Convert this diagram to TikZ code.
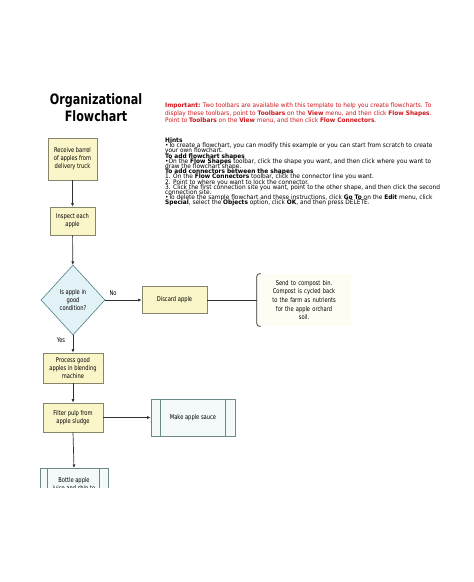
\documentclass[tikz,border=0pt]{standalone}
\usepackage{fontspec}
\setmainfont{DejaVu Sans}[FakeStretch=0.78]
\newfontfamily\notefont{DejaVu Sans}[FakeStretch=0.94]
\newcommand\hintfont{\notefont\fontsize{6.2}{5.2}\selectfont\lineskiplimit=-6pt\relax}
\usepackage{tikz}
\usetikzlibrary{shapes.geometric,arrows.meta}
\definecolor{stepfill}{HTML}{FAF6CA}
\definecolor{stepline}{HTML}{85856A}
\definecolor{askfill}{HTML}{E3F2F6}
\definecolor{askline}{HTML}{4F7F8C}
\definecolor{subfill}{HTML}{F4FAFA}
\definecolor{subline}{HTML}{6A8A8A}
\definecolor{notefill}{HTML}{FFFDF3}
\definecolor{hintred}{HTML}{D0141A}
\definecolor{wire}{HTML}{303030}

\begin{document}
\begin{tikzpicture}[x=1pt,y=-1pt,
  stepbox/.style={draw=stepline,fill=stepfill,line width=0.7pt,align=center,
    inner sep=1pt,font=\fontsize{6.6}{8}\selectfont},
  subbox/.style={draw=subline,fill=subfill,line width=0.6pt,align=center,
    inner sep=1pt,font=\fontsize{6.6}{8}\selectfont},
  askbox/.style={diamond,draw=askline,fill=askfill,line width=0.6pt,align=center,
    inner sep=0pt,font=\fontsize{6.6}{8}\selectfont},
  flow/.style={wire,line width=0.7pt,-{Latex[length=3.5pt,width=3pt]}},
  lbl/.style={font=\fontsize{6.6}{8}\selectfont}]
\useasboundingbox (0,0) rectangle (474,582);

% title and notes
\node[align=center,font=\fontsize{14.3}{17}\selectfont\bfseries] (title) at (96,108) {Organizational\\Flowchart};
\node[anchor=north west,inner sep=0pt,align=left,text=hintred,font=\notefont\fontsize{6.2}{7.6}\selectfont] (important) at (165,102.5)
  {\textbf{Important:} Two toolbars are available with this template to help you create flowcharts. To\\
   display these toolbars, point to \textbf{Toolbars} on the \textbf{View} menu, and then click \textbf{Flow Shapes}.\\
   Point to \textbf{Toolbars} on the \textbf{View} menu, and then click \textbf{Flow Connectors}.};
\node[anchor=north west,inner sep=0pt,align=left,font=\hintfont] (hints) at (165,137.5)
  {\textbf{Hints}\\
   •To create a flowchart, you can modify this example or you can start from scratch to create\\
   your own flowchart.\\
   \textbf{To add flowchart shapes}\\
   •On the \textbf{Flow Shapes} toolbar, click the shape you want, and then click where you want to\\
   draw the flowchart shape.\\
   \textbf{To add connectors between the shapes}\\
   1. On the \textbf{Flow Connectors} toolbar, click the connector line you want.\\
   2. Point to where you want to lock the connector.\\
   3. Click the first connection site you want, point to the other shape, and then click the second\\
   connection site.\\
   •To delete the sample flowchart and these instructions, click \textbf{Go To} on the \textbf{Edit} menu, click\\
   \textbf{Special}, select the \textbf{Objects} option, click \textbf{OK}, and then press DELETE.};

% flowchart
\node[stepbox,minimum width=49,minimum height=42] (receive) at (72.5,159) {Receive barrel\\of apples from\\delivery truck};
\node[stepbox,minimum width=45,minimum height=28] (inspect) at (72.5,221) {Inspect each\\apple};
\node[askbox,minimum width=64,minimum height=70] (good) at (73,300) {Is apple in\\good\\condition?};
\node[stepbox,minimum width=65,minimum height=27] (discard) at (174.5,300) {Discard apple};
\node[fill=notefill,text width=90,align=center,minimum height=52,inner sep=2pt,
  font=\fontsize{6.6}{8.6}\selectfont] (compost) at (304,300)
  {Send to compost bin.\\Compost is cycled back\\to the farm as nutrients\\for the apple orchard\\soil.};
\node[stepbox,minimum width=60,minimum height=30] (blend) at (73,368) {Process good\\apples in blending\\machine};
\node[stepbox,minimum width=60,minimum height=29] (filter) at (73,417.5) {Filter pulp from\\apple sludge};
\node[subbox,minimum width=84,minimum height=37] (sauce) at (193,417.5) {Make apple sauce};
\draw[subline,line width=0.6pt] ([xshift=10pt]sauce.north west) -- ([xshift=10pt]sauce.south west);
\draw[subline,line width=0.6pt] ([xshift=-10pt]sauce.north east) -- ([xshift=-10pt]sauce.south east);

\begin{scope}
\clip (0,0) rectangle (474,487);
\node[subbox,anchor=north,minimum width=68,minimum height=40] (bottle) at (74,468) {Bottle apple\\juice and ship to\\stores};
\draw[subline,line width=0.6pt] ([xshift=8pt]bottle.north west) -- ([xshift=8pt]bottle.south west);
\draw[subline,line width=0.6pt] ([xshift=-9pt]bottle.north east) -- ([xshift=-9pt]bottle.south east);
\end{scope}

\draw[flow] (receive) -- (inspect);
\draw[flow] (inspect) -- (good);
\draw[flow] (good.east) -- (discard.west);
\draw[flow] (good.south) -- (blend.north);
\draw[flow] (blend) -- (filter);
\draw[flow] (filter.east) -- (sauce.west);
\draw[flow] (filter.south) -- (bottle.north);
\draw[wire,line width=0.6pt] (discard.east) -- (compost.west);
\draw[wire,line width=0.7pt,rounded corners=2.5pt] ([xshift=4pt]compost.north west) -- (compost.north west)
  -- (compost.south west) -- ([xshift=4pt]compost.south west);

\node[lbl] (nolbl) at (113,293) {No};
\node[lbl] (yeslbl) at (61,340) {Yes};
\end{tikzpicture}
\end{document}
